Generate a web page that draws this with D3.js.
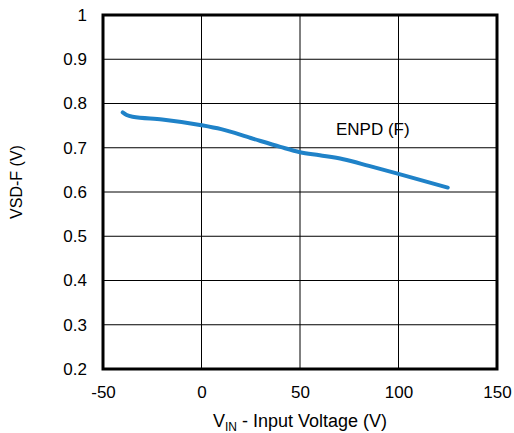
<!DOCTYPE html>
<html>
<head>
<meta charset="utf-8">
<script src="https://cdn.jsdelivr.net/npm/d3@7"></script>
<style>
  body { margin: 0; background: #fff; }
  text { font-family: "Liberation Sans", Arial, sans-serif; fill: #000; }
</style>
</head>
<body>
<svg id="chart" width="514" height="433"></svg>
<script>
// Body-diode forward voltage vs. input voltage
const inputVoltage = [-40, -38, -35, -20, 0, 10, 25, 40, 50, 60, 72, 85, 100, 125];
const vsdForward  = [0.780, 0.774, 0.770, 0.764, 0.751, 0.742, 0.722, 0.702, 0.690, 0.683, 0.674, 0.659, 0.641, 0.610];
const xTicks = [-50, 0, 50, 100, 150];
const yTicks = [0.2, 0.3, 0.4, 0.5, 0.6, 0.7, 0.8, 0.9, 1];
const seriesLabel = "ENPD (F)";

const margin = { left: 103, right: 17, top: 15, bottom: 64 };
const W = 514, H = 433;
const svg = d3.select("#chart");

const x = d3.scaleLinear().domain([-50, 150]).range([margin.left, W - margin.right]);
const y = d3.scaleLinear().domain([0.2, 1]).range([H - margin.bottom, margin.top]);

// grid
const grid = svg.append("g");
grid.selectAll(".gx").data(xTicks.slice(1, -1)).join("line")
  .attr("x1", d => x(d)).attr("x2", d => x(d))
  .attr("y1", y(1)).attr("y2", y(0.2))
  .attr("stroke", "#000").attr("stroke-width", 1);
grid.selectAll(".gy").data(yTicks.slice(1, -1)).join("line")
  .attr("x1", x(-50)).attr("x2", x(150))
  .attr("y1", d => y(d)).attr("y2", d => y(d))
  .attr("stroke", "#000").attr("stroke-width", 1);

// axes (labels only; frame drawn separately)
const xAxis = svg.append("g").attr("transform", `translate(0,${y(0.2)})`)
  .call(d3.axisBottom(x).tickValues(xTicks).tickSize(0).tickPadding(17).tickFormat(d => String(d)));
xAxis.select(".domain").remove();
xAxis.selectAll("text").style("font-size", "17px").attr("font-family", "Liberation Sans, Arial, sans-serif");

const yAxis = svg.append("g").attr("transform", `translate(${x(-50)},0)`)
  .call(d3.axisLeft(y).tickValues(yTicks).tickSize(0).tickPadding(16).tickFormat(d => d === 1 ? "1" : d3.format(".1f")(d)));
yAxis.select(".domain").remove();
yAxis.selectAll("text").style("font-size", "17px").attr("font-family", "Liberation Sans, Arial, sans-serif");

// curve
const line = d3.line().x((d, i) => x(inputVoltage[i])).y(d => y(d)).curve(d3.curveMonotoneX);
svg.append("path").datum(vsdForward)
  .attr("d", line)
  .attr("fill", "none")
  .attr("stroke", "#1f82c8")
  .attr("stroke-width", 4)
  .attr("stroke-linecap", "round")
  .attr("stroke-linejoin", "round");

// frame
svg.append("rect")
  .attr("x", x(-50)).attr("y", y(1))
  .attr("width", x(150) - x(-50)).attr("height", y(0.2) - y(1))
  .attr("fill", "none").attr("stroke", "#000").attr("stroke-width", 3);

// series label
svg.append("text").attr("x", 336).attr("y", 135)
  .style("font-size", "17px").text(seriesLabel);

// axis titles
const xt = svg.append("text").attr("x", 300).attr("y", 427)
  .attr("text-anchor", "middle").style("font-size", "18px");
xt.append("tspan").text("V");
xt.append("tspan").attr("dy", 4).style("font-size", "12px").text("IN");
xt.append("tspan").attr("dy", -4).text(" - Input Voltage (V)");

svg.append("text")
  .attr("transform", `translate(22,182) rotate(-90)`)
  .attr("text-anchor", "middle").style("font-size", "16px").text("VSD-F (V)");
</script>
</body>
</html>
